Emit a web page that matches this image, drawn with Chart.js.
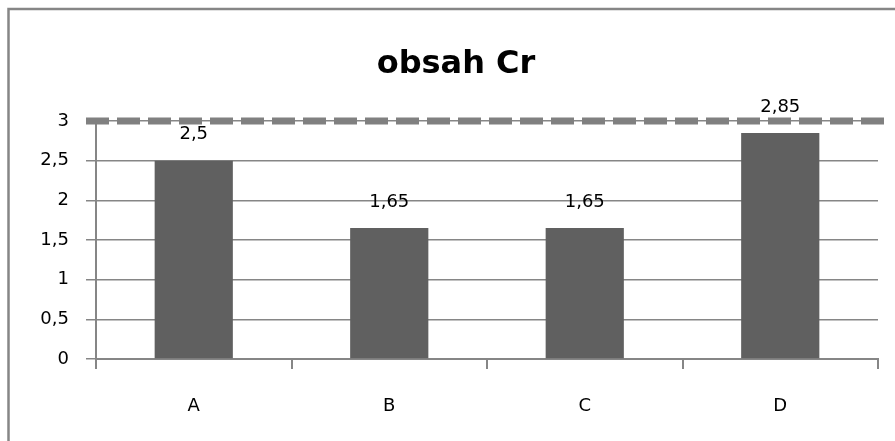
<!DOCTYPE html>
<html>
<head>
<meta charset="utf-8">
<script src="https://cdn.jsdelivr.net/npm/chart.js@4/dist/chart.umd.min.js"></script>
<style>
  html, body { margin: 0; padding: 0; background: #ffffff; }
  #wrap { width: 895px; height: 441px; }
</style>
</head>
<body>
<div id="wrap"><canvas id="c" width="895" height="441"></canvas></div>
<script>
// Chromium content per sample
const categories = ['A', 'B', 'C', 'D'];
const obsahCr = [2.5, 1.65, 1.65, 2.85];
const limitValue = 3;
const yTicks = [0, 0.5, 1, 1.5, 2, 2.5, 3];

const fmt = v => String(v).replace('.', ',');

const extras = {
  id: 'extras',
  afterDatasetsDraw(chart) {
    const { ctx, scales: { x, y } } = chart;
    ctx.save();
    // limit line
    const yl = y.getPixelForValue(limitValue);
    ctx.strokeStyle = '#808080';
    ctx.lineWidth = 7;
    ctx.setLineDash([23, 8]);
    ctx.beginPath();
    ctx.moveTo(x.left - 10, yl);
    ctx.lineTo(888, yl);
    ctx.stroke();
    ctx.setLineDash([]);
    // value labels
    ctx.fillStyle = '#000000';
    ctx.font = '18px "DejaVu Sans"';
    ctx.textAlign = 'center';
    ctx.textBaseline = 'middle';
    const meta = chart.getDatasetMeta(0);
    meta.data.forEach((bar, i) => {
      ctx.fillText(fmt(obsahCr[i]), bar.x, y.getPixelForValue(obsahCr[i]) - 26);
    });
    ctx.restore();
  },
  afterDraw(chart) {
    const { ctx } = chart;
    ctx.save();
    ctx.strokeStyle = '#868686';
    ctx.lineWidth = 2.5;
    ctx.beginPath();
    ctx.moveTo(8.5, 441);
    ctx.lineTo(8.5, 9);
    ctx.lineTo(895, 9);
    ctx.stroke();
    ctx.restore();
  }
};

new Chart(document.getElementById('c'), {
  type: 'bar',
  data: {
    labels: categories,
    datasets: [{
      data: obsahCr,
      backgroundColor: '#606060',
      borderWidth: 0,
      categoryPercentage: 1,
      barPercentage: 0.4
    }]
  },
  options: {
    responsive: false,
    animation: false,
    layout: { padding: { left: 34, right: 17, top: 0, bottom: 0 } },
    plugins: {
      legend: { display: false },
      tooltip: { enabled: false },
      title: {
        display: true,
        text: 'obsah Cr',
        color: '#000000',
        font: { family: '"DejaVu Sans"', size: 32, weight: 'bold', lineHeight: 1.2 },
        padding: { top: 45, bottom: 37.6 }
      }
    },
    scales: {
      x: {
        grid: { display: true, drawOnChartArea: false, drawTicks: true, tickLength: 10, color: '#868686', lineWidth: 2 },
        border: { display: true, color: '#868686', width: 2 },
        ticks: { color: '#000000', font: { family: '"DejaVu Sans"', size: 18 }, padding: 27 },
        afterFit: s => { s.height = 82; }
      },
      y: {
        min: 0,
        max: 3,
        afterBuildTicks: s => { s.ticks = yTicks.map(v => ({ value: v })); },
        grid: { color: '#868686', lineWidth: 1.5, tickLength: 10 },
        border: { display: true, color: '#868686', width: 2 },
        ticks: { color: '#000000', font: { family: '"DejaVu Sans"', size: 18 }, padding: 17, callback: v => fmt(v) },
        afterFit: s => { s.width = 62; }
      }
    }
  },
  plugins: [extras]
});
</script>
</body>
</html>
